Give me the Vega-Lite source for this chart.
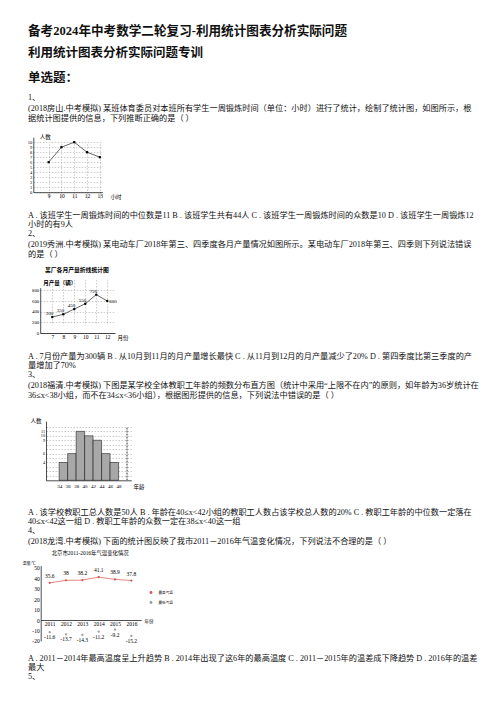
{
  "$schema": "https://vega.github.io/schema/vega-lite/v6.json",
  "background": "white",
  "padding": {"left": 0, "top": 18, "right": 0, "bottom": 0},
  "spacing": 0,
  "bounds": "flush",
  "vconcat": [
    {
      "width": 476, "height": 26,
      "data": {"values": [{"line": 1, "text": "备考2024年中考数学二轮复习-利用统计图表分析实际问题"}]},
      "mark": {"type": "text", "align": "left", "baseline": "middle", "fontSize": 12.6, "fontWeight": "bold", "color": "#111"},
      "encoding": {"x": {"value": 28}, "y": {"field": "line", "type": "ordinal", "axis": null}, "text": {"field": "text"}}
    },
    {
      "width": 476, "height": 18,
      "data": {"values": [{"line": 1, "text": "利用统计图表分析实际问题专训"}]},
      "mark": {"type": "text", "align": "left", "baseline": "middle", "fontSize": 12.5, "fontWeight": "bold", "color": "#111"},
      "encoding": {"x": {"value": 28}, "y": {"field": "line", "type": "ordinal", "axis": null}, "text": {"field": "text"}}
    },
    {
      "width": 476, "height": 31,
      "data": {"values": [{"line": 1, "text": "单选题："}]},
      "mark": {"type": "text", "align": "left", "baseline": "middle", "fontSize": 12.5, "fontWeight": "bold", "color": "#111"},
      "encoding": {"x": {"value": 28}, "y": {"field": "line", "type": "ordinal", "axis": null}, "text": {"field": "text"}}
    },
    {
      "width": 476, "height": 31.5,
      "data": {"values": [
        {"line": 1, "text": "1、"},
        {"line": 2, "text": "(2018房山.中考模拟) 某班体育委员对本班所有学生一周锻炼时间（单位：小时）进行了统计，绘制了统计图，如图所示，根"},
        {"line": 3, "text": "据统计图提供的信息，下列推断正确的是（    ）"}
      ]},
      "mark": {"type": "text", "align": "left", "baseline": "middle", "fontSize": 8.2, "color": "#111"},
      "encoding": {"x": {"value": 28}, "y": {"field": "line", "type": "ordinal", "axis": null}, "text": {"field": "text"}}
    },
    {
      "width": 108, "height": 86,
      "data": {"values": [
        {"hours": 9, "students": 6},
        {"hours": 10, "students": 9},
        {"hours": 11, "students": 10},
        {"hours": 12, "students": 8},
        {"hours": 13, "students": 7}
      ]},
      "encoding": {
        "x": {
          "field": "hours", "type": "quantitative",
          "scale": {"domain": [7.8, 13.2], "range": [33.3, 102.4], "nice": false, "zero": false},
          "axis": {"values": [9, 10, 11, 12, 13], "grid": true, "labelOverlap": false, "offset": -18.8, "title": "小时", "titleX": 110, "titleY": 4.5, "titleAlign": "left", "titleBaseline": "middle"}
        },
        "y": {
          "field": "students", "type": "quantitative",
          "scale": {"domain": [0, 11], "range": [67.2, 12.2], "nice": false},
          "axis": {"values": [0, 1, 2, 3, 4, 5, 6, 7, 8, 9, 10], "grid": true, "labelOverlap": false, "offset": -33.3, "labelFontSize": 4.5, "title": "人数", "titleAngle": 0, "titleX": 6, "titleY": 11.5, "titleAlign": "left", "titleBaseline": "middle"}
        }
      },
      "layer": [
        {"mark": {"type": "line", "color": "#000", "strokeWidth": 0.6}},
        {"mark": {"type": "square", "color": "#000", "size": 5, "opacity": 1}}
      ]
    },
    {
      "width": 476, "height": 18,
      "data": {"values": [
        {"line": 1, "text": "A . 该班学生一周锻炼时间的中位数是11 B . 该班学生共有44人 C . 该班学生一周锻炼时间的众数是10 D . 该班学生一周锻炼12"},
        {"line": 2, "text": "小时的有9人"}
      ]},
      "mark": {"type": "text", "align": "left", "baseline": "middle", "fontSize": 8.2, "color": "#111"},
      "encoding": {"x": {"value": 28}, "y": {"field": "line", "type": "ordinal", "axis": null}, "text": {"field": "text"}}
    },
    {
      "width": 476, "height": 31.5,
      "data": {"values": [
        {"line": 1, "text": "2、"},
        {"line": 2, "text": "(2019秀洲.中考模拟) 某电动车厂2018年第三、四季度各月产量情况如图所示。某电动车厂2018年第三、四季则下列说法错误"},
        {"line": 3, "text": "的是（    ）"}
      ]},
      "mark": {"type": "text", "align": "left", "baseline": "middle", "fontSize": 8.2, "color": "#111"},
      "encoding": {"x": {"value": 28}, "y": {"field": "line", "type": "ordinal", "axis": null}, "text": {"field": "text"}}
    },
    {
      "width": 115, "height": 90.5,
      "title": {"text": "某厂各月产量折线统计图", "anchor": "start", "frame": "group", "dx": 45, "offset": -14.7, "baseline": "middle", "fontSize": 5.8, "fontWeight": "bold"},
      "data": {"values": [
        {"month": 7, "output": 300},
        {"month": 8, "output": 350},
        {"month": 9, "output": 450},
        {"month": 10, "output": 550},
        {"month": 11, "output": 720},
        {"month": 12, "output": 600}
      ]},
      "encoding": {
        "x": {
          "field": "month", "type": "quantitative",
          "scale": {"domain": [5.9, 12.7], "range": [40.2, 115], "nice": false, "zero": false},
          "axis": {"values": [7, 8, 9, 10, 11, 12], "grid": true, "labelOverlap": false, "offset": -18.5, "title": "月份", "titleX": 117, "titleY": 4.5, "titleAlign": "left", "titleBaseline": "middle"}
        },
        "y": {
          "field": "output", "type": "quantitative",
          "scale": {"domain": [0, 850], "range": [72, 26.7], "nice": false},
          "axis": {"values": [0, 200, 400, 600, 800], "grid": true, "labelOverlap": false, "offset": -40.2, "labelFontSize": 4.8, "title": "月产量（辆）", "titleFontWeight": "bold", "titleAngle": 0, "titleX": 2.5, "titleY": 21.3, "titleAlign": "left", "titleBaseline": "middle"}
        }
      },
      "layer": [
        {"mark": {"type": "line", "color": "#000", "strokeWidth": 0.6}},
        {"mark": {"type": "circle", "color": "#000", "size": 6, "opacity": 1}},
        {
          "transform": [{"filter": "datum.month < 12"}],
          "mark": {"type": "text", "align": "right", "baseline": "middle", "dx": 1, "dy": -4, "fontSize": 5, "color": "#000"},
          "encoding": {"text": {"field": "output", "type": "nominal"}}
        },
        {
          "transform": [{"filter": "datum.month == 12"}],
          "mark": {"type": "text", "align": "left", "baseline": "middle", "dx": 2, "dy": 0, "fontSize": 5, "color": "#000"},
          "encoding": {"text": {"field": "output", "type": "nominal"}}
        }
      ]
    },
    {
      "width": 476, "height": 18,
      "data": {"values": [
        {"line": 1, "text": "A . 7月份产量为300辆 B . 从10月到11月的月产量增长最快 C . 从11月到12月的月产量减少了20% D . 第四季度比第三季度的产"},
        {"line": 2, "text": "量增加了70%"}
      ]},
      "mark": {"type": "text", "align": "left", "baseline": "middle", "fontSize": 8.2, "color": "#111"},
      "encoding": {"x": {"value": 28}, "y": {"field": "line", "type": "ordinal", "axis": null}, "text": {"field": "text"}}
    },
    {
      "width": 476, "height": 31.5,
      "data": {"values": [
        {"line": 1, "text": "3、"},
        {"line": 2, "text": "(2018福清.中考模拟) 下图是某学校全体教职工年龄的频数分布直方图（统计中采用“上限不在内”的原则，如年龄为36岁统计在"},
        {"line": 3, "text": "36≤x<38小组，而不在34≤x<36小组），根据图形提供的信息，下列说法中错误的是（    ）"}
      ]},
      "mark": {"type": "text", "align": "left", "baseline": "middle", "fontSize": 8.2, "color": "#111"},
      "encoding": {"x": {"value": 28}, "y": {"field": "line", "type": "ordinal", "axis": null}, "text": {"field": "text"}}
    },
    {
      "width": 131.3, "height": 105.5,
      "data": {"values": [
        {"age_from": 34, "age_to": 36, "staff": 4},
        {"age_from": 36, "age_to": 38, "staff": 6},
        {"age_from": 38, "age_to": 40, "staff": 11},
        {"age_from": 40, "age_to": 42, "staff": 10},
        {"age_from": 42, "age_to": 44, "staff": 9},
        {"age_from": 44, "age_to": 46, "staff": 6},
        {"age_from": 46, "age_to": 48, "staff": 4}
      ]},
      "layer": [
        {
          "mark": {"type": "rect", "fill": "#a8a8a8", "stroke": "#000", "strokeWidth": 0.5},
          "encoding": {
            "x": {
              "field": "age_from", "type": "quantitative",
              "scale": {"domain": [30.9, 51], "range": [46, 131.3], "nice": false, "zero": false},
              "axis": {"values": [34, 36, 38, 40, 42, 44, 46, 48], "labelOverlap": false, "offset": -27.2, "labelFontSize": 5, "title": "年龄", "titleX": 133, "titleY": 6.5, "titleAlign": "left", "titleBaseline": "middle", "labelPadding": 3}
            },
            "x2": {"field": "age_to"},
            "y": {
              "field": "staff", "type": "quantitative",
              "scale": {"domain": [0, 13.3], "range": [78.3, 19.1], "nice": false},
              "axis": {"values": [1, 2, 3, 4, 5, 6, 7, 8, 9, 10, 11, 12], "grid": true, "labelOverlap": false, "offset": -46, "labelFontSize": 4.2, "labelExpr": "indexof([4, 6, 9, 10, 11], datum.value) >= 0 ? datum.label : ''", "title": "人数", "titleAngle": 0, "titleX": -16, "titleY": 18, "titleAlign": "left", "titleBaseline": "middle"}
            },
            "y2": {"datum": 0}
          }
        },
        {
          "mark": {"type": "rule", "color": "#888", "strokeWidth": 0.5, "strokeDash": [1.5, 1.5]},
          "encoding": {
            "x": {
              "datum": 50, "type": "quantitative",
              "axis": {"values": [34, 36, 38, 40, 42, 44, 46, 48], "labelOverlap": false, "offset": -27.2, "labelFontSize": 5, "title": "年龄", "titleX": 133, "titleY": 6.5, "titleAlign": "left", "titleBaseline": "middle", "labelPadding": 3}
            },
            "y": {
              "datum": 0, "type": "quantitative",
              "axis": {"values": [1, 2, 3, 4, 5, 6, 7, 8, 9, 10, 11, 12], "grid": true, "labelOverlap": false, "offset": -46, "labelFontSize": 4.2, "labelExpr": "indexof([4, 6, 9, 10, 11], datum.value) >= 0 ? datum.label : ''", "title": "人数", "titleAngle": 0, "titleX": -16, "titleY": 18, "titleAlign": "left", "titleBaseline": "middle"}
            },
            "y2": {"datum": 12}
          }
        }
      ]
    },
    {
      "width": 476, "height": 18,
      "data": {"values": [
        {"line": 1, "text": "A . 该学校教职工总人数是50人 B . 年龄在40≤x<42小组的教职工人数占该学校总人数的20% C . 教职工年龄的中位数一定落在"},
        {"line": 2, "text": "40≤x<42这一组 D . 教职工年龄的众数一定在38≤x<40这一组"}
      ]},
      "mark": {"type": "text", "align": "left", "baseline": "middle", "fontSize": 8.2, "color": "#111"},
      "encoding": {"x": {"value": 28}, "y": {"field": "line", "type": "ordinal", "axis": null}, "text": {"field": "text"}}
    },
    {
      "width": 476, "height": 21,
      "data": {"values": [
        {"line": 1, "text": "4、"},
        {"line": 2, "text": "(2018龙湾.中考模拟) 下面的统计图反映了我市2011－2016年气温变化情况，下列说法不合理的是（    ）"}
      ]},
      "mark": {"type": "text", "align": "left", "baseline": "middle", "fontSize": 8.2, "color": "#111"},
      "encoding": {"x": {"value": 28}, "y": {"field": "line", "type": "ordinal", "axis": null}, "text": {"field": "text"}}
    },
    {
      "width": 141.2, "height": 106.7,
      "title": {"text": "北京市2011-2016年气温变化情况", "anchor": "start", "frame": "group", "dx": 51.7, "offset": -11.8, "baseline": "middle", "fontSize": 5.4, "fontWeight": "normal"},
      "data": {"values": [
        {"year": 2011, "series": "最高气温", "temp": 35.6},
        {"year": 2012, "series": "最高气温", "temp": 38},
        {"year": 2013, "series": "最高气温", "temp": 38.2},
        {"year": 2014, "series": "最高气温", "temp": 41.1},
        {"year": 2015, "series": "最高气温", "temp": 38.9},
        {"year": 2016, "series": "最高气温", "temp": 37.8},
        {"year": 2011, "series": "最低气温", "temp": -11.6},
        {"year": 2012, "series": "最低气温", "temp": -13.7},
        {"year": 2013, "series": "最低气温", "temp": -14.3},
        {"year": 2014, "series": "最低气温", "temp": -11.2},
        {"year": 2015, "series": "最低气温", "temp": -9.2},
        {"year": 2016, "series": "最低气温", "temp": -15.2}
      ]},
      "encoding": {
        "x": {
          "field": "year", "type": "quantitative",
          "scale": {"domain": [2010.45, 2016.6], "range": [40.7, 141.2], "nice": false, "zero": false},
          "axis": {"values": [2011, 2012, 2013, 2014, 2015, 2016], "format": "d", "labelOverlap": false, "offset": -33.7, "labelPadding": 1, "title": "年份", "titleX": 144, "titleY": 1, "titleAlign": "left", "titleBaseline": "middle", "titleFontSize": 4.5}
        },
        "y": {
          "field": "temp", "type": "quantitative",
          "scale": {"domain": [-20, 52], "range": [93.9, 18.7], "nice": false},
          "axis": {"values": [-20, -10, 0, 10, 20, 30, 40, 50], "labelOverlap": false, "offset": -40.7, "labelExpr": "datum.value + ''", "title": "温度/℃", "titleFontSize": 4, "titleAngle": 0, "titleX": -18.7, "titleY": 16.2, "titleAlign": "left", "titleBaseline": "middle"}
        }
      },
      "layer": [
        {
          "transform": [{"filter": "datum.series == '最高气温'"}],
          "mark": {"type": "line", "color": "#d9534f", "strokeWidth": 0.7}
        },
        {
          "mark": {"type": "circle", "size": 5, "opacity": 1},
          "encoding": {
            "color": {
              "field": "series", "type": "nominal",
              "scale": {"domain": ["最高气温", "最低气温"], "range": ["#d9534f", "#999999"]},
              "legend": {"orient": "none", "legendX": 148.5, "legendY": 572, "title": null, "labelFontSize": 3.6, "symbolSize": 8, "symbolType": "circle", "rowPadding": 5, "labelOffset": 5}
            }
          }
        },
        {
          "transform": [{"filter": "datum.series == '最高气温'"}],
          "mark": {"type": "text", "baseline": "middle", "dy": -7, "fontSize": 5.5, "color": "#000"},
          "encoding": {"text": {"field": "temp", "type": "nominal"}}
        },
        {
          "transform": [{"filter": "datum.series == '最低气温'"}],
          "mark": {"type": "text", "baseline": "middle", "dy": 5, "fontSize": 5.5, "color": "#000"},
          "encoding": {"text": {"field": "temp", "type": "nominal"}}
        }
      ]
    },
    {
      "width": 476, "height": 27,
      "data": {"values": [
        {"line": 1, "text": "A . 2011－2014年最高温度呈上升趋势 B . 2014年出现了这6年的最高温度 C . 2011－2015年的温差成下降趋势 D . 2016年的温差"},
        {"line": 2, "text": "最大"},
        {"line": 3, "text": "5、"}
      ]},
      "mark": {"type": "text", "align": "left", "baseline": "middle", "fontSize": 8.2, "color": "#111"},
      "encoding": {"x": {"value": 28}, "y": {"field": "line", "type": "ordinal", "axis": null}, "text": {"field": "text"}}
    }
  ],
  "config": {
    "view": {"stroke": null},
    "font": "'Liberation Serif', 'Noto Sans CJK SC', serif",
    "title": {"font": "'Liberation Serif', 'Noto Sans CJK SC', serif", "color": "#000"},
    "text": {"font": "'Liberation Serif', 'Noto Sans CJK SC', serif"},
    "legend": {"labelFont": "'Liberation Serif', 'Noto Sans CJK SC', serif", "labelColor": "#000"},
    "axis": {
      "labelFont": "'Liberation Serif', 'Noto Sans CJK SC', serif",
      "titleFont": "'Liberation Serif', 'Noto Sans CJK SC', serif",
      "labelColor": "#000", "titleColor": "#000",
      "labelFontSize": 5.5, "titleFontSize": 5.5, "titleFontWeight": "normal",
      "domainColor": "#000", "domainWidth": 0.7,
      "ticks": false, "labelPadding": 1.5,
      "labelOverlap": false, "labelFlush": false,
      "grid": false, "gridColor": "#999", "gridWidth": 0.5, "gridDash": [1.5, 1.5]
    }
  }
}
